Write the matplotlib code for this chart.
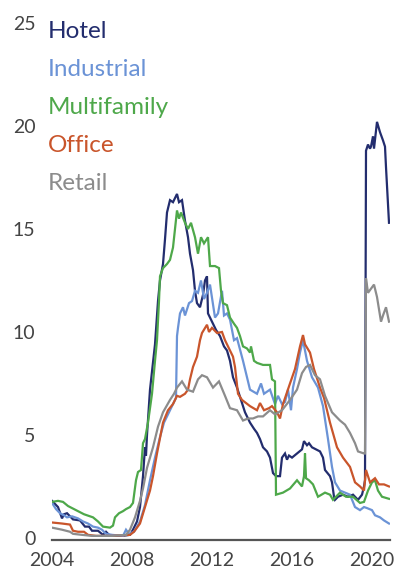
import matplotlib

matplotlib.use("Agg")
import matplotlib.pyplot as plt

plt.rcParams["font.family"] = ["Lato", "DejaVu Sans"]

# --- Data -------------------------------------------------------------------------

hotel_x = [2004.0, 2004.3, 2004.5, 2004.6, 2004.75, 2005.05, 2005.4, 2005.65, 2005.85,
           2006.0, 2006.3, 2006.55, 2006.7, 2006.9, 2007.5, 2007.9, 2008.05, 2008.25,
           2008.4, 2008.55, 2008.65, 2008.7, 2008.75, 2008.9, 2009.15, 2009.3, 2009.4,
           2009.55, 2009.65, 2009.75, 2009.9, 2010.05, 2010.15, 2010.25, 2010.35, 2010.5,
           2010.65, 2010.8, 2010.9, 2011.05, 2011.15, 2011.25, 2011.4, 2011.55, 2011.65,
           2011.75, 2011.8, 2012.05, 2012.2, 2012.4, 2012.6, 2012.75, 2012.9, 2013.05,
           2013.25, 2013.4, 2013.65, 2013.9, 2014.1, 2014.25, 2014.4, 2014.55, 2014.75,
           2014.9, 2015.05, 2015.2, 2015.4, 2015.5, 2015.65, 2015.75, 2015.85, 2016.0,
           2016.25, 2016.5, 2016.6, 2016.75, 2016.85, 2017.0, 2017.2, 2017.4, 2017.55,
           2017.65, 2017.9, 2018.0, 2018.1, 2018.15, 2018.3, 2018.55, 2018.8, 2019.05,
           2019.3, 2019.5, 2019.6, 2019.65, 2019.7, 2019.8, 2019.9, 2019.95, 2020.05,
           2020.1, 2020.25, 2020.4, 2020.55, 2020.65, 2020.7, 2020.85]
hotel_y = [1.8, 1.5, 0.95, 1.15, 1.2, 0.9, 0.85, 0.55, 0.55,
           0.35, 0.35, 0.15, 0.3, 0.1, 0.1, 0.15, 0.4, 0.8,
           1.5, 3.0, 4.4, 4.0, 5.0, 7.2, 9.4, 11.5, 12.5,
           13.3, 14.5, 15.8, 16.4, 16.3, 16.5, 16.7, 16.3, 16.4,
           15.4, 14.6, 13.8, 13.0, 12.0, 11.4, 11.2, 11.8, 12.5,
           12.7, 10.9, 10.4, 10.1, 9.8, 9.3, 9.1, 8.6, 7.8,
           7.3, 6.85, 6.1, 5.6, 5.3, 5.1, 4.8, 4.4, 4.2,
           3.9, 3.15, 3.0, 3.0, 3.9, 4.1, 3.8, 4.0, 3.9,
           4.1, 4.3, 4.7, 4.5, 4.6, 4.4, 4.3, 4.2, 3.9,
           3.3, 3.0, 2.7, 2.0, 1.85, 2.0, 2.1, 2.0, 2.1,
           1.85, 2.1, 2.5, 2.8, 18.8, 19.1, 18.9, 19.0, 19.5,
           18.9, 20.2, 19.7, 19.3, 19.0, 18.0, 15.3]

industrial_x = [2004.0, 2004.2, 2004.4, 2004.6, 2004.75, 2005.0, 2005.3, 2005.55, 2005.8,
                2006.05, 2006.3, 2006.5, 2006.7, 2007.0, 2007.55, 2007.7, 2007.85, 2008.1,
                2008.4, 2008.65, 2008.9, 2009.15, 2009.4, 2009.6, 2009.75, 2010.05, 2010.2,
                2010.25, 2010.3, 2010.4, 2010.55, 2010.65, 2010.85, 2011.0, 2011.15, 2011.3,
                2011.45, 2011.6, 2011.75, 2011.9, 2012.15, 2012.3, 2012.5, 2012.6, 2012.75,
                2012.9, 2013.1, 2013.25, 2013.55, 2013.9, 2014.25, 2014.45, 2014.6, 2014.9,
                2015.15, 2015.3, 2015.5, 2015.65, 2015.8, 2015.95, 2016.05, 2016.25, 2016.4,
                2016.55, 2016.75, 2017.0, 2017.3, 2017.55, 2017.8, 2018.0, 2018.15, 2018.4,
                2018.65, 2018.9, 2019.15, 2019.4, 2019.6, 2019.75, 2020.0, 2020.15, 2020.4,
                2020.6, 2020.85]
industrial_y = [1.7, 1.4, 1.2, 1.1, 1.0, 1.05, 0.95, 0.8, 0.7,
                0.55, 0.5, 0.4, 0.2, 0.15, 0.1, 0.4, 0.2, 0.3,
                0.8, 1.6, 2.8, 3.9, 4.9, 5.6, 5.9, 6.5, 6.8,
                9.8, 10.2, 10.9, 11.2, 10.8, 11.4, 11.5, 12.0, 11.9,
                12.5, 11.6, 11.9, 12.3, 10.7, 10.9, 12.0, 10.8, 10.9,
                10.6, 9.6, 9.7, 8.6, 7.2, 7.0, 7.5, 7.0, 7.2,
                6.5, 6.9, 6.5, 6.6, 7.2, 6.2, 7.3, 8.2, 9.0,
                9.6, 8.6, 7.8, 7.3, 6.4, 4.8, 3.45, 2.7, 2.3,
                2.2, 2.1, 1.5, 1.35, 1.5, 1.45, 1.35, 1.1, 1.0,
                0.85, 0.7]

multifamily_x = [2004.0, 2004.3, 2004.55, 2004.8, 2005.2, 2005.6, 2006.05, 2006.3, 2006.55,
                 2006.9, 2007.05, 2007.15, 2007.35, 2007.55, 2007.7, 2007.9, 2008.05, 2008.2,
                 2008.3, 2008.45, 2008.55, 2008.65, 2008.8, 2009.0, 2009.15, 2009.25, 2009.35,
                 2009.4, 2009.55, 2009.75, 2009.9, 2010.05, 2010.15, 2010.25, 2010.35, 2010.45,
                 2010.65, 2010.8, 2010.95, 2011.15, 2011.3, 2011.45, 2011.6, 2011.8, 2011.9,
                 2012.15, 2012.35, 2012.45, 2012.55, 2012.75, 2012.9, 2013.1, 2013.25, 2013.4,
                 2013.55, 2013.75, 2013.9, 2013.95, 2014.1, 2014.25, 2014.55, 2014.9, 2015.0,
                 2015.15, 2015.2, 2015.55, 2015.9, 2016.25, 2016.5, 2016.6, 2016.65, 2016.7,
                 2016.85, 2017.05, 2017.3, 2017.65, 2017.9, 2018.05, 2018.4, 2018.7, 2019.05,
                 2019.4, 2019.6, 2019.8, 2020.0, 2020.15, 2020.3, 2020.5, 2020.85]
multifamily_y = [1.75, 1.8, 1.75, 1.55, 1.35, 1.15, 1.0, 0.8, 0.55,
                 0.5, 0.6, 1.0, 1.2, 1.3, 1.4, 1.5, 1.7, 2.8,
                 3.2, 3.3, 4.6, 4.8, 5.6, 7.0, 8.6, 9.6, 11.5,
                 12.7, 13.1, 13.3, 13.5, 14.1, 15.0, 15.9, 15.5, 15.8,
                 15.3, 15.0, 15.3, 14.6, 13.8, 14.6, 14.3, 14.6, 13.2,
                 13.2, 13.1, 12.0, 11.4, 11.3, 10.7, 10.4, 10.2, 9.8,
                 9.3, 9.2, 9.0, 9.3, 8.6, 8.5, 8.4, 8.4, 7.7,
                 7.6, 2.1, 2.2, 2.4, 2.8, 2.5, 3.0, 4.1, 2.9,
                 2.8, 2.6, 2.0, 2.2, 2.1, 1.85, 2.2, 2.0, 2.0,
                 1.7, 1.75, 2.3, 2.7, 2.8, 2.3, 2.0, 1.9]

office_x = [2004.0, 2004.5, 2004.9, 2005.05, 2005.3, 2005.6, 2005.8, 2006.2, 2007.0,
            2007.9, 2008.1, 2008.4, 2008.65, 2008.9, 2009.05, 2009.25, 2009.55, 2009.8,
            2010.05, 2010.25, 2010.4, 2010.65, 2010.8, 2010.9, 2011.05, 2011.25, 2011.4,
            2011.5, 2011.75, 2011.85, 2012.0, 2012.25, 2012.5, 2012.65, 2012.9, 2013.05,
            2013.15, 2013.3, 2013.5, 2013.9, 2014.25, 2014.4, 2014.6, 2014.85, 2015.0,
            2015.25, 2015.4, 2015.55, 2015.9, 2016.15, 2016.4, 2016.55, 2016.65, 2016.9,
            2017.1, 2017.4, 2017.6, 2017.9, 2018.25, 2018.55, 2018.9, 2019.15, 2019.4,
            2019.6, 2019.7, 2019.9, 2020.15, 2020.35, 2020.6, 2020.85]
office_y = [0.75, 0.7, 0.65, 0.35, 0.3, 0.3, 0.15, 0.1, 0.1,
            0.15, 0.3, 0.7, 1.5, 2.3, 3.0, 4.1, 5.6, 6.2,
            6.5, 6.9, 6.85, 7.0, 7.2, 7.7, 8.3, 8.8, 9.6,
            9.95, 10.35, 10.0, 10.2, 9.95, 10.0, 9.6, 9.1, 8.8,
            8.3, 7.0, 6.7, 6.4, 6.2, 6.55, 6.2, 6.3, 6.4,
            6.1, 5.8, 6.5, 7.5, 8.2, 9.3, 9.85, 9.4, 9.0,
            8.2, 7.3, 6.8, 5.6, 4.4, 3.9, 3.45, 2.7, 2.5,
            2.3, 3.3, 2.7, 2.9, 2.6, 2.6, 2.5]

retail_x = [2004.0, 2004.5, 2004.9, 2005.05, 2005.5, 2006.0, 2007.0, 2007.7, 2007.9,
            2008.15, 2008.4, 2008.55, 2008.75, 2009.05, 2009.3, 2009.55, 2009.9, 2010.1,
            2010.25, 2010.5, 2010.75, 2011.05, 2011.3, 2011.5, 2011.75, 2012.05, 2012.35,
            2012.65, 2012.9, 2013.25, 2013.55, 2013.8, 2014.05, 2014.3, 2014.55, 2014.9,
            2015.15, 2015.5, 2015.9, 2016.25, 2016.5, 2016.7, 2016.9, 2017.15, 2017.4,
            2017.65, 2018.0, 2018.4, 2018.65, 2018.9, 2019.15, 2019.3, 2019.6, 2019.65,
            2019.7, 2019.8, 2019.95, 2020.1, 2020.25, 2020.45, 2020.55, 2020.7, 2020.85]
retail_y = [0.5, 0.4, 0.3, 0.2, 0.15, 0.1, 0.1, 0.15, 0.4,
            1.0, 1.8, 2.4, 3.4, 4.4, 5.4, 6.1, 6.7, 7.0,
            7.3, 7.6, 7.2, 7.1, 7.7, 7.9, 7.8, 7.3, 7.6,
            6.9, 6.3, 6.2, 5.7, 5.8, 5.8, 5.9, 5.9, 6.2,
            6.0, 6.2, 6.7, 7.2, 8.0, 8.3, 8.4, 7.9, 7.7,
            6.9, 6.1, 5.7, 5.5, 5.1, 4.6, 4.2, 4.1, 4.1,
            12.6, 11.9, 12.1, 12.3, 11.7, 10.5, 10.8, 11.2, 10.5]

SERIES = [
    ("Hotel", hotel_x, hotel_y, "#232d6e"),
    ("Industrial", industrial_x, industrial_y, "#6b93d6"),
    ("Multifamily", multifamily_x, multifamily_y, "#4ea84a"),
    ("Office", office_x, office_y, "#c9552b"),
    ("Retail", retail_x, retail_y, "#8c8c8c"),
]

x_ticks = [2004, 2008, 2012, 2016, 2020]
y_ticks = [0, 5, 10, 15, 20, 25]

# --- Rendering --------------------------------------------------------------------

W, H = 401, 574
fig = plt.figure(figsize=(W / 100, H / 100), dpi=100)
# axes placed in pixel terms: x 52..390, y 23..540
ax = fig.add_axes([52 / W, (H - 540) / H, (390 - 52) / W, (540 - 23) / H])

for name, xs, ys, color in SERIES:
    ax.plot(xs, ys, color=color, lw=1.6, solid_joinstyle="miter")

ax.set_xlim(2004, 2020.9)
ax.set_ylim(-0.1, 25)
ax.set_xticks(x_ticks)
ax.set_yticks(y_ticks)
ax.tick_params(length=0, labelsize=14, labelcolor="#444444")
ax.tick_params(axis="y", pad=12)
ax.tick_params(axis="x", pad=9)
for side in ("top", "right", "left"):
    ax.spines[side].set_visible(False)
ax.spines["bottom"].set_color("#555555")
ax.spines["bottom"].set_linewidth(1.6)

# colored-text legend, top left
for i, (name, _, _, color) in enumerate(SERIES):
    fig.text(48 / W, 1 - (32 + 38 * i) / H, name, color=color, fontsize=17.5,
             va="center", ha="left")

fig.savefig("out.png", dpi=100)
